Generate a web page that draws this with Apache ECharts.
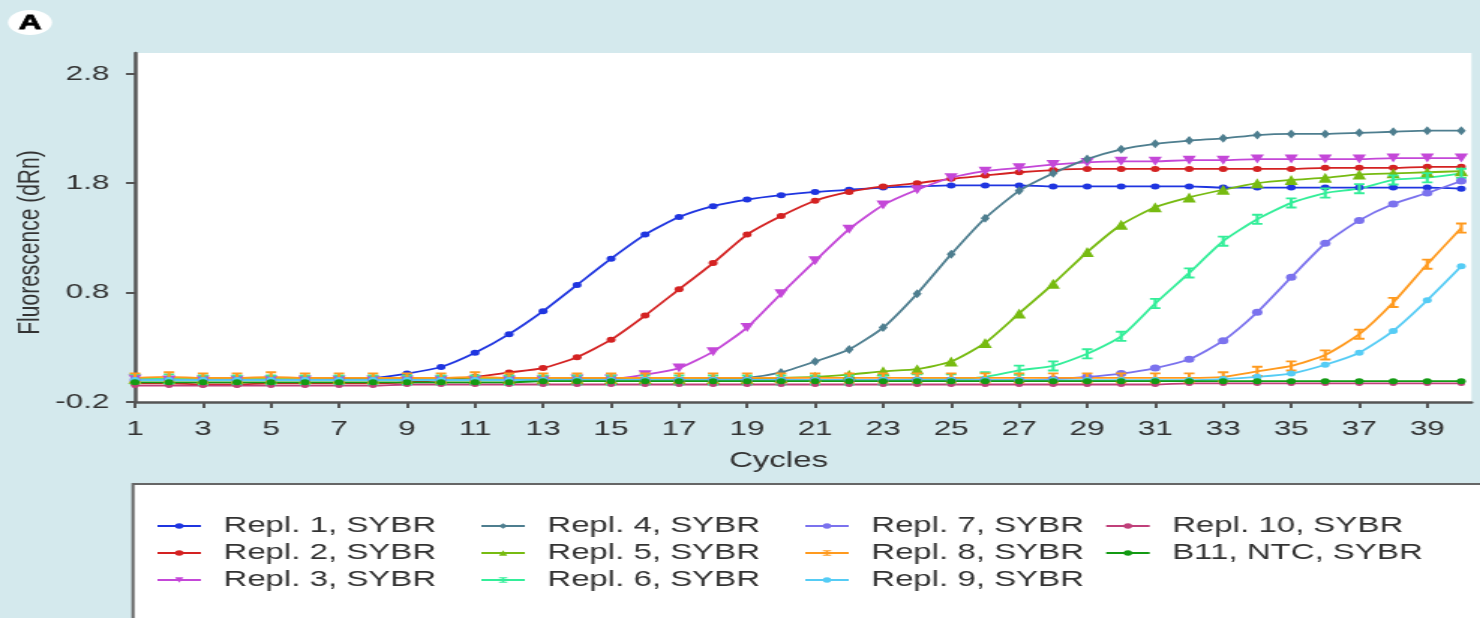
<!DOCTYPE html>
<html>
<head>
<meta charset="utf-8">
<script src="https://cdn.jsdelivr.net/npm/echarts@6/dist/echarts.min.js"></script>
<style>
  html, body { margin: 0; padding: 0; width: 1480px; height: 618px; overflow: hidden; background: #d4e9ed; }
  /* the figure is laid out on a narrower canvas and widened horizontally */
  #chart { width: 987px; height: 618px; transform: scaleX(1.49949); transform-origin: 0 0; }
</style>
</head>
<body>
<div id="chart"></div>
<script>
// amplification cycles
const cycles = [1, 2, 3, 4, 5, 6, 7, 8, 9, 10, 11, 12, 13, 14, 15, 16, 17, 18, 19, 20,
                21, 22, 23, 24, 25, 26, 27, 28, 29, 30, 31, 32, 33, 34, 35, 36, 37, 38, 39, 40];
const xTickLabels = [1, 3, 5, 7, 9, 11, 13, 15, 17, 19, 21, 23, 25, 27, 29, 31, 33, 35, 37, 39];
const yTickLabels = [-0.2, 0.8, 1.8, 2.8];

// fluorescence (dRn) per cycle
const repl1 = [0.00, 0.00, 0.00, 0.00, 0.00, 0.00, 0.01, 0.02, 0.06, 0.12,
               0.25, 0.42, 0.63, 0.87, 1.11, 1.33, 1.49, 1.59, 1.65, 1.69,
               1.72, 1.74, 1.76, 1.77, 1.78, 1.78, 1.78, 1.77, 1.77, 1.77,
               1.77, 1.77, 1.76, 1.76, 1.76, 1.76, 1.76, 1.76, 1.76, 1.75];
const repl2 = [-0.03, -0.03, -0.04, -0.04, -0.03, -0.03, -0.03, -0.03, -0.02, 0.00,
               0.03, 0.07, 0.11, 0.21, 0.37, 0.59, 0.83, 1.07, 1.33, 1.50,
               1.64, 1.72, 1.77, 1.80, 1.84, 1.87, 1.90, 1.92, 1.93, 1.93,
               1.93, 1.93, 1.93, 1.93, 1.93, 1.94, 1.94, 1.94, 1.95, 1.95];
const repl3 = [0.01, 0.00, 0.00, 0.00, 0.00, 0.00, 0.00, 0.00, 0.00, 0.00,
               0.00, 0.00, 0.00, 0.01, 0.01, 0.05, 0.11, 0.26, 0.48, 0.79,
               1.09, 1.38, 1.60, 1.74, 1.85, 1.91, 1.94, 1.97, 1.99, 2.00,
               2.00, 2.01, 2.01, 2.02, 2.02, 2.02, 2.02, 2.03, 2.03, 2.03];
const repl4 = [0.00, 0.00, 0.00, 0.00, 0.00, 0.00, 0.00, 0.00, 0.00, 0.00,
               0.00, 0.00, 0.00, 0.00, 0.00, 0.00, 0.00, 0.01, 0.02, 0.07,
               0.17, 0.28, 0.48, 0.79, 1.15, 1.48, 1.73, 1.89, 2.02, 2.11,
               2.16, 2.19, 2.21, 2.24, 2.25, 2.25, 2.26, 2.27, 2.28, 2.28];
const repl5 = [0.01, 0.01, 0.01, 0.01, 0.01, 0.01, 0.01, 0.01, 0.01, 0.01,
               0.01, 0.01, 0.01, 0.01, 0.01, 0.01, 0.01, 0.01, 0.01, 0.02,
               0.03, 0.05, 0.08, 0.10, 0.17, 0.34, 0.61, 0.88, 1.17, 1.42,
               1.58, 1.67, 1.74, 1.80, 1.83, 1.85, 1.88, 1.89, 1.90, 1.91];
const repl6 = [0.01, 0.01, 0.00, 0.00, 0.00, 0.00, 0.00, 0.00, 0.00, 0.00,
               0.00, 0.00, 0.00, 0.00, 0.00, 0.00, 0.00, 0.00, 0.00, 0.00,
               0.00, 0.00, 0.00, 0.01, 0.01, 0.03, 0.09, 0.13, 0.24, 0.40,
               0.70, 0.98, 1.27, 1.47, 1.62, 1.71, 1.75, 1.83, 1.85, 1.89];
const repl7 = [0.00, 0.00, 0.00, 0.00, 0.00, 0.00, 0.00, 0.00, 0.00, 0.00,
               0.00, 0.00, 0.00, 0.00, 0.00, 0.00, 0.00, 0.00, 0.00, 0.00,
               0.00, 0.00, 0.00, 0.00, 0.00, 0.00, 0.00, 0.01, 0.03, 0.06,
               0.11, 0.19, 0.36, 0.62, 0.94, 1.25, 1.46, 1.61, 1.71, 1.82];
const repl8 = [0.02, 0.03, 0.02, 0.02, 0.03, 0.02, 0.02, 0.02, 0.02, 0.02,
               0.03, 0.02, 0.02, 0.02, 0.02, 0.02, 0.02, 0.02, 0.02, 0.02,
               0.02, 0.02, 0.02, 0.02, 0.02, 0.02, 0.02, 0.02, 0.02, 0.02,
               0.02, 0.02, 0.03, 0.08, 0.13, 0.23, 0.42, 0.71, 1.06, 1.39];
const repl9 = [0.00, 0.00, 0.00, 0.00, 0.00, 0.00, 0.00, 0.00, 0.00, 0.00,
               0.00, 0.00, 0.00, 0.00, 0.00, 0.00, 0.00, 0.00, 0.00, 0.00,
               0.00, 0.00, 0.00, 0.00, 0.00, 0.00, 0.00, 0.00, 0.00, 0.00,
               0.00, 0.00, 0.01, 0.03, 0.06, 0.14, 0.25, 0.45, 0.73, 1.04];
const repl10 = [-0.05, -0.05, -0.05, -0.05, -0.05, -0.05, -0.05, -0.05, -0.04, -0.04,
                -0.04, -0.04, -0.04, -0.04, -0.04, -0.04, -0.04, -0.04, -0.04, -0.04,
                -0.04, -0.04, -0.04, -0.04, -0.04, -0.04, -0.04, -0.04, -0.04, -0.04,
                -0.04, -0.03, -0.03, -0.03, -0.03, -0.03, -0.03, -0.03, -0.03, -0.03];
const ntcB11 = [-0.02, -0.02, -0.02, -0.02, -0.02, -0.02, -0.02, -0.02, -0.02, -0.02,
                -0.02, -0.02, -0.01, -0.01, -0.01, -0.01, -0.01, -0.01, -0.01, -0.01,
                -0.01, -0.01, -0.01, -0.01, -0.01, -0.01, -0.01, -0.01, -0.01, -0.01,
                -0.01, -0.01, -0.01, -0.01, -0.01, -0.01, -0.01, -0.01, -0.01, -0.01];

const seriesNames = ['Repl. 1, SYBR', 'Repl. 2, SYBR', 'Repl. 3, SYBR', 'Repl. 4, SYBR',
                     'Repl. 5, SYBR', 'Repl. 6, SYBR', 'Repl. 7, SYBR', 'Repl. 8, SYBR',
                     'Repl. 9, SYBR', 'Repl. 10, SYBR', 'B11, NTC, SYBR'];
const seriesValues = [repl1, repl2, repl3, repl4, repl5, repl6, repl7, repl8, repl9, repl10, ntcB11];

// styling
const FONT = '"Liberation Sans", Arial, Helvetica, sans-serif';
const TEXT = '#333333';
const AXIS = '#555555';
const colors = ['#1f35e0', '#d42222', '#c447d8', '#4e7e8f', '#77bb11', '#33ee99',
                '#7b72ee', '#ff9a1e', '#55ccf5', '#c0407a', '#139a13'];
const ibeam = 'path://M0,0H10V2H6.5V10H10V12H0V10H3.5V2H0Z';
const markers = [
  { symbol: 'circle', size: 6, rotate: 0 },
  { symbol: 'circle', size: 6, rotate: 0 },
  { symbol: 'triangle', size: [9, 9], rotate: 180 },
  { symbol: 'diamond', size: [6, 9], rotate: 0 },
  { symbol: 'triangle', size: [9, 10], rotate: 0 },
  { symbol: ibeam, size: [7, 11], rotate: 0 },
  { symbol: 'circle', size: 7, rotate: 0 },
  { symbol: ibeam, size: [7, 11], rotate: 0 },
  { symbol: 'circle', size: 6, rotate: 0 },
  { symbol: 'circle', size: 5, rotate: 0 },
  { symbol: 'circle', size: 6, rotate: 0 }
];

const series = seriesValues.map((vals, i) => ({
  name: seriesNames[i],
  type: 'line',
  data: cycles.map((c, k) => [c, vals[k]]),
  smooth: 0.2,
  symbol: markers[i].symbol,
  symbolSize: markers[i].size,
  symbolRotate: markers[i].rotate,
  showAllSymbol: true,
  color: colors[i],
  lineStyle: { width: 1.8, color: colors[i] },
  itemStyle: { color: colors[i] },
  emphasis: { disabled: true },
  animation: false
}));

// legend: four columns
const legendColumns = [[0, 1, 2], [3, 4, 5], [6, 7, 8], [9, 10]];
const legendLeft = [104, 320, 536, 736.7];
const legends = legendColumns.map((col, k) => ({
  data: col.map(i => seriesNames[i]),
  orient: 'vertical',
  left: legendLeft[k],
  top: 515,
  padding: 0,
  itemWidth: 29,
  itemHeight: 7,
  itemGap: 5,
  selectedMode: false,
  textStyle: { fontFamily: FONT, fontSize: 22, color: TEXT, padding: [0, 0, 0, 10] }
}));

const chart = echarts.init(document.getElementById('chart'), null, { renderer: 'canvas' });
chart.setOption({
  backgroundColor: '#d4e9ed',
  animation: false,
  grid: {
    left: 90, right: 5.7, top: 53, bottom: 216,
    show: true, backgroundColor: '#ffffff', borderWidth: 0
  },
  xAxis: {
    type: 'value',
    min: 1, max: 40.3,
    name: 'Cycles',
    nameLocation: 'middle',
    nameGap: 48,
    nameTextStyle: { fontFamily: FONT, fontSize: 22, color: TEXT, padding: [0, 33, 0, 0] },
    axisLine: { show: true, onZero: false, lineStyle: { color: AXIS, width: 2.5 } },
    axisTick: { show: true, length: 6, customValues: xTickLabels, lineStyle: { color: AXIS, width: 2 } },
    axisLabel: { customValues: xTickLabels, fontFamily: FONT, fontSize: 21, color: TEXT, margin: 17 },
    splitLine: { show: false }
  },
  yAxis: {
    type: 'value',
    min: -0.2, max: 2.99,
    axisLine: { show: true, onZero: false, lineStyle: { color: AXIS, width: 2.5 } },
    axisTick: { show: true, length: 6, customValues: yTickLabels, lineStyle: { color: AXIS, width: 2 } },
    axisLabel: { customValues: yTickLabels, fontFamily: FONT, fontSize: 21, color: TEXT, margin: 17 },
    splitLine: { show: false }
  },
  legend: legends,
  graphic: [
    {
      type: 'rect', z: 0, silent: true,
      shape: { x: 88.7, y: 484, width: 1000, height: 200 },
      style: { fill: '#ffffff', stroke: '#666666', lineWidth: 2 }
    },
    {
      type: 'ellipse', z: 0, silent: true,
      shape: { cx: 20, cy: 22.5, rx: 14.7, ry: 12.5 },
      style: { fill: '#ffffff' }
    },
    {
      type: 'text', z: 1, silent: true,
      x: 20, y: 23,
      style: { text: 'A', fontFamily: FONT, fontSize: 21, fontWeight: 'bold', fill: '#000000',
               stroke: '#000000', lineWidth: 0.8,
               align: 'center', verticalAlign: 'middle' }
    },
    {
      type: 'text', z: 1, silent: true,
      x: 20.7, y: 242.5, rotation: Math.PI / 2,
      style: { text: 'Fluorescence (dRn)', fontFamily: FONT, fontSize: 21, fill: TEXT,
               align: 'center', verticalAlign: 'middle' }
    }
  ],
  series: series
});
</script>
</body>
</html>
